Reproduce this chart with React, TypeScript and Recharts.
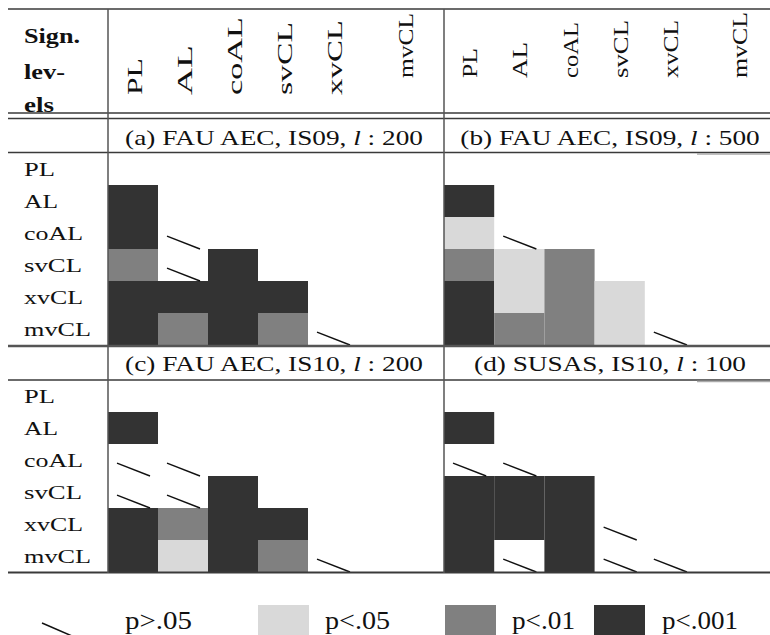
import React from 'react'
import { ScatterChart, Scatter, XAxis, YAxis, ReferenceArea, ReferenceLine } from 'recharts'

// significance codes: 0 = p>.05 (slash), 1 = p<.05, 2 = p<.01, 3 = p<.001
const rowLabels = ['PL', 'AL', 'coAL', 'svCL', 'xvCL', 'mvCL']
const colLabels = ['PL', 'AL', 'coAL', 'svCL', 'xvCL', 'mvCL']
const sigLabels = ['p>.05', 'p<.05', 'p<.01', 'p<.001']
const sigColors = ['none', '#d9d9d9', '#808080', '#333333']

const panelNames = ['(a) FAU AEC, IS09', '(b) FAU AEC, IS09', '(c) FAU AEC, IS10', '(d) SUSAS, IS10']
const panelLengths = [200, 500, 200, 100]

const panelA = [[], [3], [3, 0], [2, 0, 3], [3, 3, 3, 3], [3, 2, 3, 2, 0]]
const panelB = [[], [3], [1, 0], [2, 1, 2], [3, 1, 2, 1], [3, 2, 2, 1, 0]]
const panelC = [[], [3], [0, 0], [0, 0, 3], [3, 2, 3, 3], [3, 1, 3, 2, 0]]
const panelD = [[], [3], [0, 0], [3, 3, 3], [3, 3, 3, 0], [3, 0, 3, 0, 0]]

const panels = [panelA, panelB, panelC, panelD]

const W = 770
const H = 635
const LEFT_X = 108
const RIGHT_X = 444
const CELL_L = 50
const CELL_R = 50.2
const TOP_Y = 153
const BOT_Y = 380
const ROW_H = 32
const FONT = 'Liberation Serif, Tinos, Times New Roman, DejaVu Serif, serif'

// measured text widths (px) in the picture
const rowLabelLen = [31, 34, 59, 58, 59, 67]
const headLenLeft = [37, 50, 78, 73, 75, 65]
const headLenRight = [30, 36, 56, 58, 58, 66]
const legendLen = [67, 65, 63, 76]

const axisFor = (p: number) => ({ x: p % 2 === 0 ? 'L' : 'R', y: p < 2 ? 'T' : 'B' })

const T = ({ x, y, sx = 1, size, len, weight = 'normal', anchor = 'start', rot = 0, children }: any) => (
  <text
    transform={`translate(${x},${y}) rotate(${rot}) scale(${sx},1)`}
    fontSize={size}
    fontWeight={weight}
    textAnchor={anchor}
    textLength={len}
    lengthAdjust={len ? 'spacingAndGlyphs' : undefined}
    style={{ fontFamily: FONT }}
    fill="#111"
  >
    {children}
  </text>
)

function Overlay() {
  const rule = '#3a3a3a'
  return (
    <svg width={W} height={H} style={{ position: 'absolute', left: 0, top: 0, pointerEvents: 'none' }}>
      {/* table rules */}
      <line x1={8} x2={W} y1={9} y2={9} stroke={rule} strokeWidth={1.5} />
      <line x1={8} x2={W} y1={113} y2={113} stroke={rule} strokeWidth={1.5} />
      <line x1={8} x2={W} y1={118.5} y2={118.5} stroke={rule} strokeWidth={1.5} />
      <line x1={8} x2={W} y1={152.5} y2={152.5} stroke={rule} strokeWidth={1.5} />
      <line x1={697} x2={W} y1={154} y2={154} stroke="#aaa" strokeWidth={1.5} />
      <line x1={8} x2={W} y1={346} y2={346} stroke="#555" strokeWidth={2.5} />
      <line x1={8} x2={W} y1={380} y2={380} stroke={rule} strokeWidth={1.5} />
      <line x1={697} x2={W} y1={381.5} y2={381.5} stroke="#aaa" strokeWidth={1.5} />
      <line x1={8} x2={W} y1={572.5} y2={572.5} stroke={rule} strokeWidth={2} />
      <line x1={LEFT_X} x2={LEFT_X} y1={9} y2={573} stroke="#555" strokeWidth={1.5} />
      <line x1={RIGHT_X} x2={RIGHT_X} y1={9} y2={573} stroke="#555" strokeWidth={1.5} />

      {/* corner header */}
      <T x={24} y={43} size={21} len={56} weight="bold">Sign.</T>
      <T x={24} y={79} size={21} len={41} weight="bold">lev-</T>
      <T x={24} y={112} size={21} len={30} weight="bold">els</T>

      {/* rotated column headers */}
      {colLabels.map((c, i) => {
        const lx = i < 5 ? LEFT_X + CELL_L * (i + 0.5) + 9 : 413
        const rx = i < 5 ? RIGHT_X + CELL_R * (i + 0.5) + 8 : 747
        return (
          <g key={c}>
            <T x={lx} y={i < 5 ? 95 : 78} size={22} len={headLenLeft[i]} rot={-90}>{c}</T>
            <T x={rx} y={78} size={22} len={headLenRight[i]} rot={-90}>{c}</T>
          </g>
        )
      })}

      {/* panel titles */}
      {panelNames.map((n, p) => (
        <T key={n + p} x={p % 2 === 0 ? 274 : 610} y={p < 2 ? 145 : 371} size={20.5} sx={1.33} anchor="middle">
          {n + ', '}
          <tspan fontStyle="italic">l</tspan>
          {' : ' + panelLengths[p]}
        </T>
      ))}

      {/* row labels */}
      {[TOP_Y, BOT_Y].map((top) =>
        rowLabels.map((r, i) => (
          <T key={r + top} x={24} y={top + ROW_H * i + 22.5} size={18} len={rowLabelLen[i]}>{r}</T>
        ))
      )}

      {/* legend */}
      <line x1={42} y1={623} x2={72} y2={636} stroke="#111" strokeWidth={1.5} />
      {[258, 445, 594].map((x, i) => (
        <rect key={x} x={x} y={605} width={51} height={35} fill={sigColors[i + 1]} />
      ))}
      {[125, 325, 512, 662].map((x, i) => (
        <T key={x} x={x} y={629} size={26} len={legendLen[i]}>{sigLabels[i]}</T>
      ))}
    </svg>
  )
}

export default function App() {
  const cells: any[] = []
  const slashes: any[] = []
  const points: any[][] = [[], [], [], []]
  panels.forEach((m, p) => {
    m.forEach((row, r) => {
      row.forEach((v, c) => {
        points[p].push({ x: c + 0.5, y: r + 0.5 })
        if (v === 0) slashes.push({ p, r, c })
        else cells.push({ p, r, c, v })
      })
    })
  })

  return (
    <div style={{ position: 'absolute', left: 0, top: 0, width: W, height: H, background: '#fff' }}>
      <ScatterChart width={W} height={H} margin={{ top: 0, right: 0, bottom: 0, left: 0 }}>
        <XAxis xAxisId="L" type="number" dataKey="x" hide allowDataOverflow domain={[-LEFT_X / CELL_L, (W - LEFT_X) / CELL_L]} />
        <XAxis xAxisId="R" type="number" dataKey="x" hide allowDataOverflow domain={[-RIGHT_X / CELL_R, (W - RIGHT_X) / CELL_R]} />
        <YAxis yAxisId="T" type="number" dataKey="y" hide reversed allowDataOverflow domain={[-TOP_Y / ROW_H, (H - TOP_Y) / ROW_H]} />
        <YAxis yAxisId="B" type="number" dataKey="y" hide reversed allowDataOverflow domain={[-BOT_Y / ROW_H, (H - BOT_Y) / ROW_H]} />
        {points.map((pts, p) => (
          <Scatter
            key={'s' + p}
            data={pts}
            xAxisId={axisFor(p).x}
            yAxisId={axisFor(p).y}
            fill="#000"
            fillOpacity={0}
            isAnimationActive={false}
          />
        ))}
        {cells.map((d) => (
          <ReferenceArea
            key={`a${d.p}-${d.r}-${d.c}`}
            xAxisId={axisFor(d.p).x}
            yAxisId={axisFor(d.p).y}
            x1={d.c}
            x2={d.c + 1}
            y1={d.r}
            y2={d.r + 1}
            fill={sigColors[d.v]}
            fillOpacity={1}
            stroke="none"
            ifOverflow="visible"
          />
        ))}
        {slashes.map((d) => (
          <ReferenceLine
            key={`l${d.p}-${d.r}-${d.c}`}
            xAxisId={axisFor(d.p).x}
            yAxisId={axisFor(d.p).y}
            segment={[
              { x: d.c + 0.18, y: d.r + 0.6 },
              { x: d.c + 0.84, y: d.r + 1 },
            ]}
            stroke="#111"
            strokeWidth={1.4}
            ifOverflow="visible"
          />
        ))}
      </ScatterChart>
      <Overlay />
    </div>
  )
}
